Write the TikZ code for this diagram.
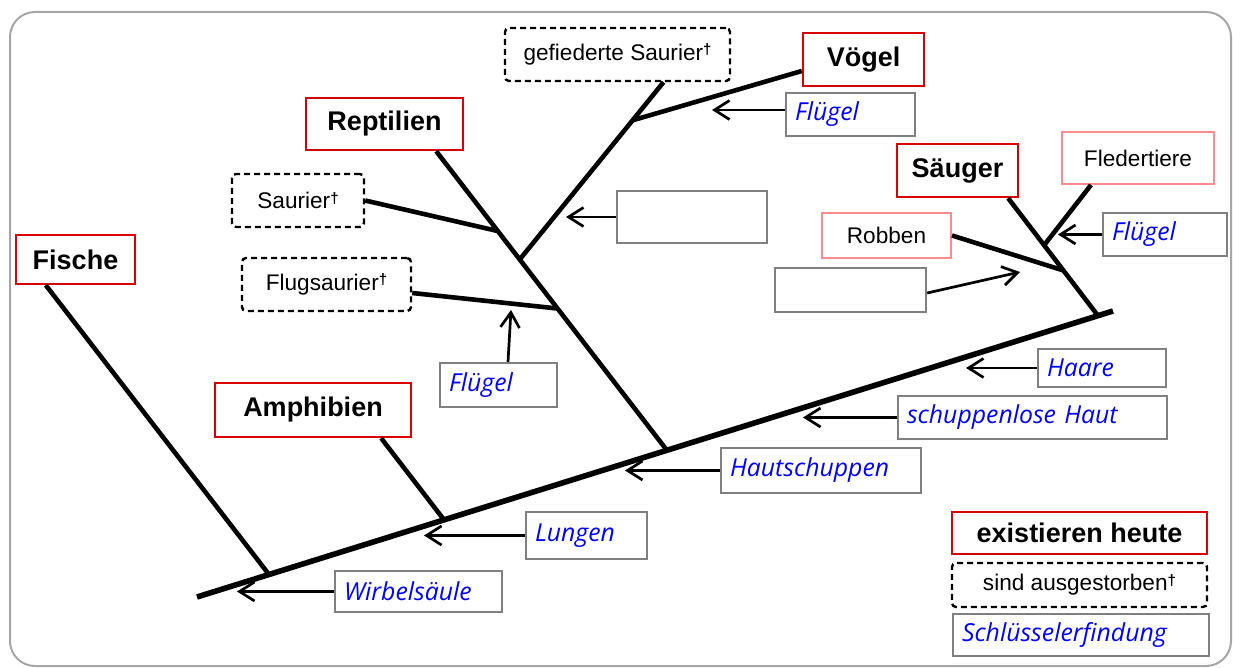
\documentclass[tikz,border=0pt]{standalone}
\usepackage{fontspec}
\setmainfont{Liberation Sans}
\newfontfamily\keyfont{Open Sans}
\usetikzlibrary{arrows.meta,positioning,calc}
\newcommand{\extinct}{\raisebox{0.45ex}{\fontsize{7.5}{8}\selectfont\bfseries †}}

\begin{document}
\begin{tikzpicture}[x=0.5pt, y=-0.5pt,
    grp/.style={draw=red!85!black, line width=1.2pt, inner sep=0pt, align=center, font=\fontsize{13.5}{16}\selectfont\bfseries},
    sub/.style={draw=red!45, line width=1pt, inner sep=0pt, align=center, font=\fontsize{11.3}{13}\selectfont},
    ext/.style={draw, line width=1.2pt, dash pattern=on 3pt off 2pt, rounded corners=2pt, inner sep=0pt, align=center, font=\fontsize{11.3}{13}\selectfont},
    key/.style={draw=gray, line width=1.2pt, inner xsep=4.5pt, inner ysep=0pt, align=left, text=blue, font=\fontsize{12.4}{14}\selectfont\keyfont\itshape},
    br/.style={line width=2.3pt},
    trunk/.style={line width=2.8pt},
    arr/.style={-{Straight Barb[length=7.5pt, width=9.5pt]}, line width=1.35pt}
]
\useasboundingbox (0,0) rectangle (1233,668);
\draw[gray!70, line width=1pt, rounded corners=12.5pt] (10,12) rectangle (1231,666);

% groups
\node[grp, minimum width=59.5pt, minimum height=24.5pt] (Fi) at (75.5,259.5) {Fische};
\node[grp, minimum width=98pt, minimum height=27pt] (Am) at (313,410) {Amphibien};
\node[grp, minimum width=78.5pt, minimum height=26pt] (Re) at (384.5,124) {Reptilien};
\node[grp, minimum width=60.5pt, minimum height=26.5pt] (Vo) at (863.5,59.5) {Vögel};
\node[grp, minimum width=60.5pt, minimum height=26.5pt] (Sa) at (957.5,170.5) {Säuger};
\node[sub, minimum width=76pt, minimum height=26pt] (Fl) at (1138,158) {Fledertiere};
\node[sub, minimum width=64.5pt, minimum height=22.5pt] (Ro) at (886.5,235.5) {Robben};
\node[ext, minimum width=66pt, minimum height=26.5pt] (Su) at (298,200.5) {Saurier\extinct};
\node[ext, minimum width=84.5pt, minimum height=26.5pt] (Fs) at (326.5,284.5) {Flugsaurier\extinct};
\node[ext, minimum width=112.5pt, minimum height=26.5pt] (Ge) at (617.5,54.5) {gefiederte Saurier\extinct};

% key innovations
\node[key, text width=55.5pt, minimum height=21.5pt] (kVo) at (850.5,114.5) {Flügel};
\node[key, text width=66pt, minimum height=26pt] (kB1) at (692,217) {};
\node[key, text width=66.5pt, minimum height=22pt] (kB2) at (850.5,290) {};
\node[key, text width=53pt, minimum height=21.5pt] (kFl) at (1165,234.5) {Flügel};
\node[key, text width=49.5pt, minimum height=22pt] (kFs) at (498.5,385) {Flügel};
\node[key, text width=55pt, minimum height=19pt] (kHa) at (1102,368) {Haare};
\node[key, text width=125.5pt, minimum height=21.5pt] (kSh) at (1032.5,417.5) {schuppenlose Haut};
\node[key, text width=91pt, minimum height=22.5pt] (kHs) at (821,470.5) {Hautschuppen};
\node[key, text width=51.5pt, minimum height=23.5pt] (kLu) at (586.5,535.5) {Lungen};
\node[key, text width=74.5pt, minimum height=20.5pt] (kWi) at (418.5,591.5) {Wirbelsäule};

% legend
\node[grp, minimum width=127.5pt, minimum height=21pt] (lEx) at (1079.5,533) {existieren heute};
\node[ext, minimum width=127.5pt, minimum height=22pt] (lAus) at (1079.5,585) {sind ausgestorben\extinct};
\node[key, text width=119pt, minimum height=21pt] (lKey) at (1081,635) {Schlüsselerfindung};

% tree
\coordinate (t0) at (197,597);
\coordinate (t1) at (1113,311);
\coordinate (jFi) at ($(t0)!0.0786!(t1)$);
\coordinate (jAm) at ($(t0)!0.2697!(t1)$);
\coordinate (jRe) at ($(t0)!0.513!(t1)$);
\coordinate (jSa) at ($(t0)!0.9836!(t1)$);
\coordinate (reTop) at ([xshift=-14pt]Re.south east);
\coordinate (jSu) at ($(reTop)!0.267!(jRe)$);
\coordinate (jVo) at ($(reTop)!0.362!(jRe)$);
\coordinate (jFs) at ($(reTop)!0.526!(jRe)$);
\coordinate (geTop) at ([xshift=23pt]Ge.south);
\coordinate (jGe) at ($(jVo)!0.785!(geTop)$);
\coordinate (saTop) at ([xshift=-5.5pt]Sa.south east);
\coordinate (jFl) at ($(saTop)!0.40!(jSa)$);
\coordinate (jRo) at ($(saTop)!0.615!(jSa)$);

\draw[trunk] (t0) -- (t1);
\draw[br] ([xshift=15.5pt]Fi.south west) -- (jFi);
\draw[br] ([xshift=-15.5pt]Am.south east) -- (jAm);
\draw[br] (reTop) -- (jRe);
\draw[br] (Su.east) -- (jSu);
\draw[br] ([yshift=-4.25pt]Fs.east) -- (jFs);
\draw[br] (jVo) -- (geTop);
\draw[br] (jGe) -- ([yshift=-5.75pt]Vo.west);
\draw[br] (saTop) -- (jSa);
\draw[br] (Ro.east) -- (jRo);
\draw[br] ([xshift=15pt]Fl.south west) -- (jFl);

% arrows
\coordinate (aVo) at (712,110);
\coordinate (aB1) at (566,217);
\coordinate (aB2) at (1020,272);
\coordinate (aFl) at (1058,234.5);
\coordinate (aFs) at (511,310);
\coordinate (aHa) at (966,368);
\coordinate (aSh) at (803,417.5);
\coordinate (aHs) at (625,470.5);
\coordinate (aLu) at (424,535.5);
\coordinate (aWi) at (237,591.5);

\draw[arr] (kVo.west |- aVo) -- (aVo);
\draw[arr] (kB1) -- (aB1);
\draw[arr] ([yshift=-1.5pt]kB2.east) -- (aB2);
\draw[arr] (kFl) -- (aFl);
\draw[arr] ([xshift=4.75pt]kFs.north) -- (aFs);
\draw[arr] (kHa) -- (aHa);
\draw[arr] (kSh) -- (aSh);
\draw[arr] (kHs) -- (aHs);
\draw[arr] (kLu) -- (aLu);
\draw[arr] (kWi) -- (aWi);
\end{tikzpicture}
\end{document}
